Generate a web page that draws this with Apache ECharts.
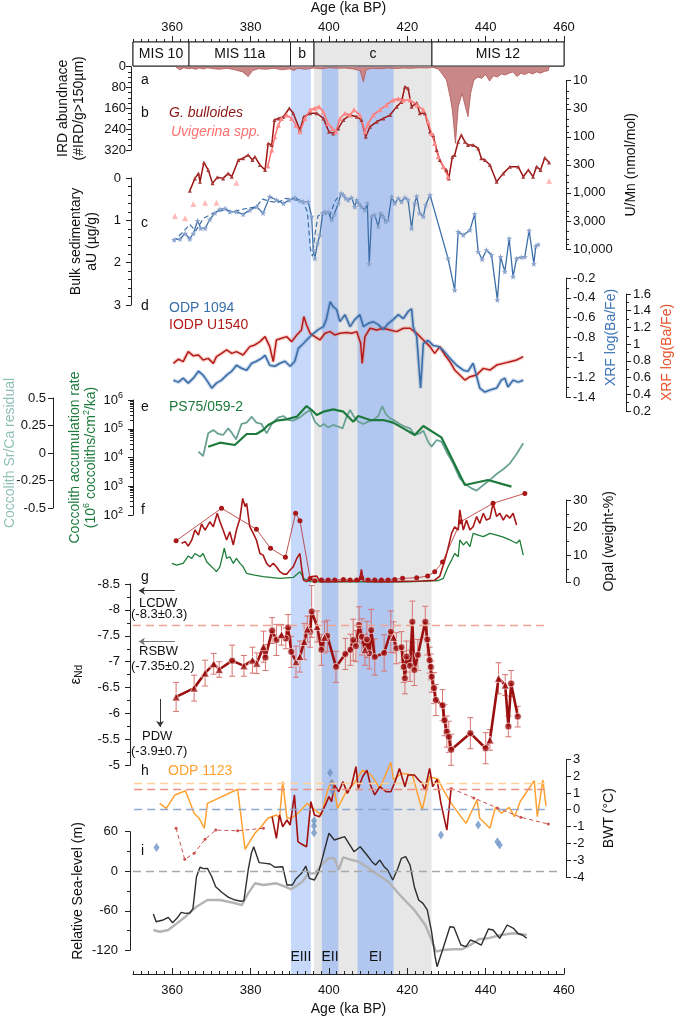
<!DOCTYPE html>
<html>
<head>
<meta charset="utf-8">
<script src="https://cdn.jsdelivr.net/npm/echarts@6/dist/echarts.min.js"></script>
<style>
  html, body { margin: 0; padding: 0; background: #fff; }
  #chart { width: 675px; height: 1016px; }
</style>
</head>
<body>
<div id="chart"></div>
<script>
// ---- data (age in ka BP) ----
const misStages = [['MIS 10', 350, 364.3], ['MIS 11a', 364.3, 390.2], ['b', 390.2, 396.2], ['c', 396.2, 426.3], ['MIS 12', 426.3, 460]];
const bands = [['', 396.2, 426.2], ['EIII', 390.3, 395.4], ['EII', 398.2, 402.4], ['EI', 407.3, 416.5]];

// a: IRD abundance
const ird = [[360.8,0],[361,5],[362,12],[363,4],[364,8],[365,6],[366,10],[367,5],[368,9],[369,4],[370,7],[372,10],[374,6],[376,12],[378,20],[379.4,38],[380.5,15],[382,8],[384,10],[386,6],[388,12],[390,8],[391,15],[392,6],[394,10],[396,5],[398,8],[400,4],[402,6],[404,5],[406,8],[408,15],[408.8,58],[409.5,12],[411,6],[413,8],[415,5],[417,7],[419,5],[421,6],[423,4],[425,5],[426.5,2],[428,10],[429,30],[430,51],[431,120],[431.5,166],[432.3,294],[433,154],[434,102],[434.6,140],[435.5,192],[436.2,100],[437,51],[438,40],[439,45],[440,30],[441,55],[442,35],[443,40],[444,28],[445,32],[446,25],[447,20],[448,38],[449,25],[450,30],[451,22],[452,28],[453,20],[454,25],[455,18],[456,15],[456.2,0]];

// b: U/Mn (nmol/mol)
const gBulloides = [[364.5,914],[365.8,551],[366.7,449],[367.1,631],[368.1,286],[369.2,391],[370.3,676],[371.5,528],[373.0,551],[374.3,449],[375.2,514],[376.9,259],[378.1,242],[379.4,211],[380.5,259],[381.1,226],[382.4,318],[383.7,391],[384.5,131],[385.4,140],[386.1,50],[387.1,47],[388.4,44],[389.9,31],[390.9,38],[392.6,76],[393.6,44],[395.2,38],[396.9,38],[398.6,47],[400.0,81],[401.1,87],[402.4,71],[403.7,50],[405.4,41],[407.1,44],[408.3,50],[409.4,100],[410.5,66],[412.2,54],[413.9,47],[415.6,41],[417.3,29],[418.5,24],[419.4,12.8],[420.2,13.7],[421.1,29],[422.4,25],[423.2,38],[424.5,38],[425.8,81],[426.6,93],[427.5,172],[428.3,259],[429.2,341],[430.0,391],[430.6,551],[431.5,226],[432.1,211],[433.0,122],[433.8,93],[434.7,122],[435.5,140],[436.8,140],[438.1,161],[438.9,242],[439.8,259],[441.1,318],[442.8,631],[444.5,449],[446.2,341],[448.3,341],[449.6,514],[450.9,391],[452.1,514],[453.0,341],[454.0,391],[455.1,236],[456.2,286]];
const uvigerina = [[384.4,332],[385.4,172],[386.2,100],[387.1,62],[387.9,47],[389.2,41],[390.5,47],[391.6,62],[392.6,81],[393.9,47],[395.2,33],[396.4,31],[397.5,29],[398.6,36],[399.8,58],[400.9,71],[401.8,81],[402.8,47],[404.1,38],[405.4,41],[406.4,33],[407.9,41],[409.2,81],[410.0,58],[411.3,41],[413.0,33],[414.7,27],[416.4,22],[417.7,21],[419.0,22],[420.7,22],[422.4,27],[424.1,33],[425.3,54],[426.2,87],[427.0,131],[427.9,226],[429.2,341],[430.4,514]];
const uvigerinaSparse = [[360.7,2570],[363.3,2840],[365.4,1580],[368.4,1500],[371.3,1500],[376.4,658],[456.2,614]];

// c: bulk sedimentary aU (ug/g)
const aU = [[360.5,1.46],[362.0,1.44],[363.3,1.31],[364.5,1.44],[365.4,1.31],[366.5,1.01],[367.3,1.19],[368.4,1.19],[369.6,0.98],[370.9,0.83],[372.2,0.74],[373.5,0.72],[374.7,0.80],[376.4,0.80],[378.1,0.86],[379.8,0.76],[381.5,0.68],[383.2,0.83],[384.9,0.44],[386.6,0.52],[388.4,0.60],[389.9,0.52],[391.3,0.46],[392.6,0.54],[393.5,0.56],[394.7,0.56],[395.6,0.91],[396.0,1.70],[396.4,1.90],[397.1,1.54],[397.7,1.35],[398.4,0.83],[399.0,0.80],[399.8,0.80],[400.7,0.99],[401.3,0.87],[402.4,0.60],[403.1,0.36],[403.7,0.40],[404.3,0.48],[404.9,0.52],[405.8,0.46],[406.6,0.68],[407.1,0.52],[407.7,0.61],[408.3,0.68],[409.2,0.76],[409.8,0.60],[410.3,2.03],[410.9,0.91],[411.7,0.87],[412.6,1.15],[413.2,0.83],[413.9,0.91],[414.5,1.03],[415.1,0.99],[416.0,0.44],[416.8,0.60],[417.7,0.48],[418.5,0.56],[419.4,0.46],[420.2,0.52],[421.1,1.19],[421.9,0.60],[422.4,0.43],[423.2,0.83],[424.1,0.91],[424.7,0.64],[425.8,0.40],[430.4,1.90],[432.1,2.65],[433.0,1.27],[434.3,1.35],[436.0,1.23],[437.2,0.85],[438.1,1.74],[439.1,1.92],[440.2,1.70],[441.5,1.82],[443.0,2.88],[443.8,1.86],[444.9,2.21],[446.0,1.43],[447.0,2.33],[447.9,1.90],[449.1,1.87],[450.0,1.86],[451.1,1.24],[452.3,2.03],[452.8,1.61],[453.4,1.57]];
const aUalt = [[360.2,1.50],[362.5,1.30],[364.5,1.10],[366.0,1.25],[368.0,0.95],[370.5,0.83],[373.0,0.76],[376.0,0.78],[379.0,0.72],[381.5,0.68],[383.0,0.50],[385.0,0.55],[387.0,0.58],[389.0,0.48],[391.5,0.52],[393.5,0.58],[394.5,0.80],[395.3,1.70],[395.8,1.85],[396.5,1.30],[397.2,0.90],[398.5,0.82],[400.2,0.90],[401.5,0.55],[403.0,0.38]];

// d: XRF log(Ba/Fe)
const odp1094 = [[360.3,-1.23],[361.6,-1.25],[362.8,-1.21],[364.1,-1.26],[365.4,-1.21],[366.7,-1.14],[367.9,-1.18],[368.8,-1.23],[370.1,-1.31],[371.3,-1.26],[372.6,-1.23],[373.9,-1.18],[375.2,-1.14],[376.4,-1.08],[377.7,-1.11],[379.0,-1.13],[380.3,-1.06],[381.5,-1.04],[382.8,-1.01],[383.7,-0.98],[384.9,-1.08],[386.2,-1.09],[387.5,-1.06],[388.8,-1.04],[390.1,-1.09],[391.3,-1.04],[392.2,-0.91],[393.5,-0.86],[394.7,-0.81],[396.0,-0.76],[397.3,-0.72],[398.6,-0.69],[399.4,-0.61],[400.3,-0.44],[401.1,-0.49],[402.0,-0.52],[402.8,-0.64],[404.1,-0.57],[405.4,-0.69],[406.6,-0.62],[407.9,-0.57],[408.8,-0.69],[410.0,-0.66],[411.3,-0.64],[412.6,-0.67],[413.9,-0.72],[415.1,-0.66],[416.4,-0.62],[417.7,-0.57],[419.0,-0.61],[420.2,-0.54],[421.1,-0.51],[421.5,-0.69],[422.4,-0.79],[423.4,-1.31],[424.1,-0.86],[425.3,-0.83],[426.6,-0.88],[427.9,-0.89],[429.2,-0.93],[430.9,-1.01],[432.6,-1.08],[434.3,-1.13],[435.5,-1.14],[436.8,-1.06],[437.7,-1.19],[438.5,-1.31],[439.8,-1.35],[441.1,-1.33],[442.8,-1.31],[444.0,-1.23],[444.9,-1.21],[445.7,-1.30],[447.0,-1.23],[448.3,-1.25],[449.6,-1.23]];
const u1540 = [[360.3,0.77],[361.6,0.82],[362.8,0.79],[364.1,0.91],[365.4,0.86],[366.7,0.87],[367.9,0.81],[369.2,0.83],[370.5,0.77],[371.3,0.85],[372.6,0.89],[373.9,0.93],[375.2,0.89],[376.4,0.91],[378.1,0.87],[379.8,0.97],[381.1,0.99],[382.4,1.03],[383.7,1.09],[384.9,0.97],[385.8,0.79],[386.6,1.05],[387.9,1.07],[389.2,1.09],[390.5,1.03],[391.8,1.11],[393.0,1.17],[393.6,1.33],[394.3,1.23],[395.2,1.13],[396.4,1.09],[397.7,1.05],[399.0,1.13],[400.3,1.15],[401.5,1.11],[402.8,1.13],[404.5,1.14],[405.8,1.13],[407.1,1.15],[408.1,1.01],[408.5,0.77],[409.2,1.09],[410.5,1.19],[412.2,1.17],[413.9,1.19],[415.6,1.17],[417.3,1.15],[419.0,1.19],[420.7,1.19],[422.4,1.13],[424.1,1.05],[425.8,0.97],[427.0,0.89],[428.3,0.97],[429.6,0.87],[430.9,0.79],[432.1,0.69],[433.4,0.63],[434.7,0.57],[436.0,0.61],[437.7,0.63],[439.4,0.71],[441.1,0.69],[442.8,0.75],[444.5,0.77],[446.2,0.79],[447.9,0.81],[449.6,0.85]];

// e: coccoliths
const srCa = [[366.7,0.012],[367.9,-0.027],[369.2,0.179],[370.5,0.209],[371.8,0.173],[373.0,0.164],[374.3,0.224],[375.2,0.185],[376.3,0.124],[377.7,0.264],[379.0,0.276],[380.3,0.330],[381.5,0.276],[382.8,0.264],[384.1,0.179],[385.4,0.264],[387.1,0.324],[388.4,0.336],[389.6,0.300],[390.9,0.294],[392.6,0.324],[393.9,0.361],[395.2,0.391],[396.4,0.285],[397.7,0.239],[398.7,0.264],[399.8,0.233],[401.1,0.255],[402.4,0.239],[403.5,0.224],[404.5,0.330],[405.4,0.391],[406.4,0.330],[407.5,0.285],[408.8,0.264],[410.0,0.285],[411.3,0.300],[412.6,0.336],[413.6,0.427],[414.5,0.355],[415.6,0.315],[416.8,0.294],[418.1,0.264],[419.4,0.239],[420.7,0.224],[421.9,0.164],[423.2,0.179],[424.1,0.203],[425.3,0.103],[426.2,0.058],[427.5,0.118],[428.7,0.103],[430.0,0.012],[431.7,-0.094],[433.4,-0.230],[435.1,-0.291],[436.4,-0.321],[437.7,-0.342],[439.4,-0.291],[441.1,-0.245],[442.8,-0.191],[444.5,-0.148],[446.2,-0.094],[447.9,-0.009],[449.6,0.088]];
const coccoAR = [[369.2,2.38e4],[372.2,3.28e4],[376.0,2.72e4],[379.0,6.56e4],[381.5,6.56e4],[383.2,9.05e4],[384.5,1.35e5],[386.6,1.91e5],[389.2,2.13e5],[391.8,2.63e5],[394.3,6.18e5],[395.6,4.49e5],[396.9,3.01e5],[398.6,3.93e5],[401.1,4.73e5],[403.7,3.93e5],[406.2,1.76e5],[407.5,2.77e5],[410.5,2.01e5],[413.9,2.01e5],[416.4,1.63e5],[419.0,1.03e5],[421.9,6.07e4],[424.1,1.25e5],[428.7,5.02e4],[434.7,1104],[440.6,1648],[446.6,968]];

// f: opal (weight-%)
const opalLowRes = [[361.0,15.2],[372.6,27.0],[381.5,19.4],[385.1,12.5],[388.9,9.2],[391.5,25.2],[392.6,22.5],[395.2,1.5],[396.4,0.7],[398.1,1.0],[399.8,1.0],[401.5,1.0],[403.7,1.2],[405.4,1.0],[407.1,1.0],[408.3,1.8],[410.0,1.0],[411.7,1.0],[413.4,1.0],[415.1,1.0],[416.8,1.2],[418.8,1.6],[422.4,1.8],[425.2,2.4],[427.0,4.0],[429.0,7.5],[433.6,22.1],[441.9,28.8],[450.0,32.4]];
const opalRed = [[362.4,14.3],[363.3,14.9],[364.1,13.3],[365.0,15.5],[365.8,19.1],[366.7,17.3],[367.5,21.3],[368.4,19.1],[369.6,22.1],[370.5,20.3],[371.5,25.2],[372.2,22.1],[373.0,19.1],[373.9,15.5],[374.7,18.5],[375.6,13.7],[376.4,19.1],[377.3,23.4],[378.0,30.6],[378.6,27.6],[379.0,28.8],[379.8,20.3],[380.7,17.9],[381.5,15.5],[382.4,10.6],[383.2,10.0],[384.1,7.0],[384.9,5.8],[385.8,7.0],[386.6,5.8],[387.5,4.0],[388.4,3.1],[389.2,3.1],[390.1,4.6],[390.9,5.8],[391.8,8.8],[392.6,10.6],[393.0,5.8],[393.5,1.0],[394.3,0.4],[395.6,2.2],[396.9,2.4],[397.7,0.4],[400,0.4],[405,0.5],[407.8,0.5],[408.3,4.8],[408.8,0.5],[412,0.4],[416,0.4],[420,0.5],[424,0.6],[427,0.9],[428.3,2.4],[429.6,8.2],[430.4,12.5],[431.3,17.9],[432.1,20.3],[433.0,19.1],[433.4,26.4],[434.3,19.1],[435.1,22.7],[436.0,19.1],[436.8,20.3],[437.7,24.0],[438.5,21.5],[439.4,25.2],[440.2,22.7],[441.1,23.4],[441.9,28.8],[442.8,24.0],[443.6,25.2],[444.5,22.7],[445.3,24.6],[446.2,23.4],[447.0,25.2],[447.9,20.9]];
const opalGreen = [[359.9,7.0],[361.1,6.4],[362.8,7.0],[364.1,9.7],[365.0,8.8],[365.8,10.6],[367.1,9.4],[367.9,10.6],[368.8,7.6],[369.6,6.4],[370.5,5.2],[371.3,4.0],[372.2,5.8],[373.3,12.5],[373.9,8.8],[374.7,9.4],[375.6,7.0],[376.4,8.8],[377.3,7.0],[378.1,5.8],[379.0,3.4],[380.7,2.8],[383.2,2.2],[387.5,1.6],[390.9,1.9],[392.6,4.0],[393.5,1.6],[395.2,0.4],[400,0.3],[410,0.3],[420,0.3],[428,0.8],[429.2,1.6],[430.4,5.8],[431.3,8.2],[432.1,10.6],[433.0,9.4],[433.4,15.5],[434.3,13.7],[435.1,14.9],[436.0,13.1],[436.8,17.9],[438.1,17.3],[439.4,16.7],[441.1,17.9],[442.8,17.3],[444.5,16.5],[446.2,15.5],[447.9,14.3],[448.7,15.5],[449.6,10.0]];

// g: eNd (age, value, error, marker: t = triangle, c = circle)
const ndAge = [361.0,365.6,368.4,370.6,372.0,375.3,378.3,380.5,381.6,383.3,383.8,385.5,386.6,387.9,389.0,389.6,390.4,391.6,392.6,393.7,394.5,395.2,395.6,397.0,398.1,398.9,399.6,401.8,404.2,405.5,406.2,406.9,407.7,408.4,409.2,409.7,410.3,410.8,411.7,414.1,415.8,416.5,417.2,418.5,419.1,419.4,419.8,420.7,421.3,421.8,422.7,424.6,425.1,425.7,426.0,426.2,426.8,427.3,429.0,429.5,430.1,430.6,431.2,436.1,440.0,441.1,443.3,445.0,445.8,446.5,448.2];
const ndVal = [-6.32,-6.49,-6.78,-6.96,-6.85,-7.02,-6.92,-7.03,-6.97,-7.29,-7.08,-7.60,-7.42,-7.52,-7.45,-7.66,-7.19,-7.00,-7.10,-7.39,-7.63,-7.58,-7.97,-7.68,-7.23,-7.47,-7.50,-6.90,-7.15,-7.23,-7.42,-7.30,-7.71,-7.48,-7.23,-7.43,-7.16,-7.61,-7.09,-7.17,-7.58,-7.47,-7.26,-7.28,-6.90,-6.68,-7.10,-6.92,-7.77,-6.84,-7.13,-7.77,-7.43,-7.03,-6.90,-6.71,-6.49,-6.26,-6.16,-5.87,-5.65,-5.55,-5.30,-5.62,-5.33,-5.49,-6.68,-6.55,-5.75,-6.58,-5.94];
const ndErr = [0.28,0.25,0.25,0.2,0.15,0.3,0.2,0.25,0.2,0.3,0.25,0.25,0.3,0.2,0.2,0.25,0.3,0.3,0.3,0.35,0.25,0.3,0.5,0.3,0.3,0.3,0.3,0.3,0.3,0.3,0.4,0.3,0.35,0.35,0.3,0.35,0.3,0.4,0.35,0.35,0.4,0.3,0.3,0.3,0.3,0.3,0.3,0.3,0.4,0.3,0.3,0.3,0.3,0.25,0.25,0.3,0.3,0.3,0.3,0.3,0.3,0.3,0.3,0.3,0.3,0.2,0.3,0.2,0.2,0.25,0.2];
const ndMark = 'tttttcttttccctcccttttcctctcccccccctcccccctccccccccccccccccccccccctttcccctt';
const ndRefs = [['LCDW', '(-8.3\u00b10.3)'], ['RSBW', '(-7.35\u00b10.2)'], ['PDW', '(-3.9\u00b10.7)']];

// h: bottom-water temperature (deg C)
const bwt1123 = [[356.8,0.38],[358.5,0.08],[360.7,0.88],[363.4,1.13],[365.6,-0.21],[366.9,-0.51],[368.2,-1.10],[369.0,0.38],[376.7,1.22],[378.6,-2.35],[381.1,-1.40],[382.7,-1.01],[384.4,-0.51],[386.6,-0.31],[387.4,-0.51],[388.2,1.67],[389.3,-0.51],[390.4,-0.51],[392.1,-0.21],[394.5,0.38],[396.5,-0.02],[398.1,-0.31],[399.8,1.27],[400.9,1.77],[402.2,0.08],[404.2,0.98],[406.4,1.57],[408.6,2.36],[410.8,2.07],[413.0,1.27],[415.8,2.82],[416.5,1.77],[418.5,2.17],[421.3,2.07],[423.8,-0.02],[425.7,1.97],[427.9,1.81],[429.0,1.27],[431.2,0.38],[435.0,-0.81],[437.8,0.58],[438.5,-0.51],[441.1,-1.10],[442.5,0.14],[444.1,-0.21],[446.0,0.14],[447.4,-0.41],[448.8,0.48],[450.5,1.07],[452.4,1.73],[453.2,-0.41],[454.6,1.77],[455.4,0.22]];
const bwtRed = [[385.5,-0.41],[386.6,-1.70],[387.4,-0.31],[388.2,-1.01],[389.3,-0.61],[390.1,-0.91],[391.2,0.88],[392.1,-1.90],[393.0,-2.04],[394.3,-2.20],[395.4,0.48],[396.3,-0.31],[397.6,-0.41],[398.9,0.18],[400.0,0.78],[400.7,0.48],[401.4,1.47],[402.5,1.07],[403.6,1.67],[404.7,0.98],[405.8,1.47],[406.9,2.56],[407.5,1.27],[408.6,1.96],[409.7,2.36],[410.6,1.47],[411.7,0.88],[413.0,1.37],[414.6,1.07],[415.8,1.07],[416.9,1.67],[418.0,2.46],[419.4,1.37],[420.2,2.07],[421.8,2.07],[422.9,1.77],[423.8,1.57],[424.5,1.17],[425.7,2.46],[426.5,1.37],[427.6,1.81],[428.6,0.38],[430.1,-1.21],[431.2,1.27]];
const bwtDashedEarly = [[361.0,-1.10],[363.2,-2.95],[365.6,-2.59],[368.4,-1.76],[371.1,-1.21],[376.7,-1.25],[383.3,-1.10]];
const bwtDashedLate = [[431.2,1.27],[437.0,0.70],[443.0,0.10],[449.0,-0.45],[456.0,-0.85]];
const bwtDiamonds = [[356.0,-2.24],[396.2,-0.65],[396.2,-0.97],[396.2,-1.37],[400.3,2.20],[400.7,1.57],[400.9,1.13],[428.6,-1.50],[438.1,-0.91],[443.0,-1.90],[443.6,-2.10]];
const bwtRefs = [1.57, 1.22, 0];

// i: relative sea level (m)
const slBlack = [[355.2,-64.9],[355.9,-76.6],[357.7,-74.0],[359.0,-70.0],[360.1,-78.1],[361.2,-71.5],[362.3,-62.4],[363.4,-63.9],[364.5,-63.5],[365.3,-56.8],[366.2,-8.3],[367.1,6.0],[368.0,4.0],[369.0,4.4],[370.1,-8.3],[371.1,-23.5],[372.8,-32.6],[374.4,-39.6],[376.1,-43.7],[377.5,-45.5],[378.3,-44.7],[379.4,1.9],[380.2,27.1],[380.8,37.2],[382.2,13.0],[383.8,12.0],[385.0,11.0],[386.2,6.0],[388.2,6.9],[389.3,-20.9],[390.7,-20.9],[391.5,-12.3],[393.0,-3.2],[394.1,7.9],[395.0,-10.8],[396.3,-13.3],[397.4,-0.7],[398.1,14.5],[400.0,57.6],[401.4,47.4],[404.0,52.4],[406.4,29.6],[408.0,37.2],[409.7,24.6],[411.0,14.5],[411.9,9.5],[413.0,17.0],[414.1,6.9],[415.0,1.9],[416.3,-13.3],[417.6,4.4],[418.5,19.6],[419.6,22.1],[420.7,9.5],[421.8,-23.5],[422.9,-43.7],[424.0,-48.7],[425.1,-58.8],[426.2,-91.8],[427.1,-129.7],[427.6,-144.9],[429.0,-119.5],[430.9,-84.2],[431.9,-85.1],[433.7,-112.0],[435.0,-114.5],[436.1,-104.4],[437.2,-106.9],[438.9,-112.0],[440.7,-87.7],[441.9,-89.2],[443.6,-101.8],[445.5,-81.6],[447.1,-86.6],[448.2,-94.2],[449.4,-96.8],[450.5,-101.8]];
const slGray = [[355.2,-89.2],[356.8,-91.8],[359.0,-89.2],[361.2,-79.1],[363.4,-69.0],[366.2,-53.8],[369.0,-43.7],[372.2,-43.7],[375.6,-47.8],[377.8,-51.3],[379.4,-33.5],[381.1,-18.3],[383.3,-20.9],[386.6,-18.3],[388.8,-23.5],[390.4,-27.4],[393.2,-15.9],[394.8,-3.2],[396.5,-3.2],[398.1,9.5],[399.8,19.6],[401.4,19.6],[402.5,1.9],[403.6,21.1],[405.3,18.1],[407.5,14.5],[409.7,6.9],[411.9,-3.2],[415.2,-15.9],[418.5,-38.6],[421.8,-58.8],[424.6,-81.6],[426.2,-104.4],[427.3,-122.0],[429.0,-119.5],[431.7,-118.5],[433.9,-118.5],[436.1,-112.0],[438.3,-103.3],[440.5,-101.8],[443.9,-96.8],[447.1,-94.2],[450.5,-96.8]];

// ---- chart ----
const FONT = '"Liberation Sans", Arial, Helvetica, sans-serif';
const DARKRED = '#9c1414';
const chart = echarts.init(document.getElementById('chart'));

function merge(a, b) {
  for (const k in b) {
    const v = b[k];
    if (v && typeof v === 'object' && !Array.isArray(v) && a[k] && typeof a[k] === 'object' && !Array.isArray(a[k])) {
      merge(a[k], v);
    } else {
      a[k] = v;
    }
  }
  return a;
}

// panel layout: [top, height] of each grid (pixels)
const panels = [
  [42, 24],       // 0 MIS boxes + top axis
  [66, 908],      // 1 bands + bottom axis
  [66.7, 83.3],   // 2 IRD
  [80.7, 168.3],  // 3 U/Mn
  [178, 127],     // 4 aU
  [278, 119],     // 5 XRF ODP 1094
  [294, 117],     // 6 XRF U1540
  [398, 110],     // 7 Sr/Ca
  [400, 115],     // 8 coccolith AR
  [500, 82.7],    // 9 opal
  [584, 181.3],   // 10 eNd
  [759.3, 117.7], // 11 BWT
  [831.7, 118.6], // 12 sea level
  [42, 24],       // 13 long ticks top
  [66, 908]       // 14 long ticks bottom
];
const grids = panels.map(p => ({ left: 133, right: 111, top: p[0], height: p[1], outerBoundsMode: 'none', containLabel: false }));
grids[0].show = true;
grids[0].borderColor = '#222';
grids[0].borderWidth = 1;

const majorTicks = [360, 380, 400, 420, 440, 460];
const xAxes = panels.map((p, i) => ({
  gridIndex: i, type: 'value', min: 350, max: 460, show: false,
  axisLine: { onZero: false }, splitLine: { show: false }
}));
const ageLabel = v => (v % 20 === 0 && v > 350 ? String(v) : '');
merge(xAxes[0], {
  show: true, position: 'top', interval: 2,
  axisLine: { show: true, lineStyle: { color: '#222' } },
  axisTick: { show: true, length: 3, inside: false, lineStyle: { color: '#222' } },
  axisLabel: { show: true, formatter: ageLabel, color: '#111', fontSize: 13, margin: 8 },
  name: 'Age (ka BP)', nameLocation: 'middle', nameGap: 27, nameTextStyle: { color: '#111', fontSize: 14 }
});
merge(xAxes[1], {
  show: true, position: 'bottom', interval: 2,
  axisLine: { show: true, lineStyle: { color: '#222' } },
  axisTick: { show: true, length: 3, inside: true, lineStyle: { color: '#222' } },
  axisLabel: { show: true, formatter: ageLabel, color: '#111', fontSize: 13, margin: 10 },
  name: 'Age (ka BP)', nameLocation: 'middle', nameGap: 27, nameTextStyle: { color: '#111', fontSize: 14 }
});
merge(xAxes[13], {
  show: true, position: 'top',
  axisLine: { show: false }, axisLabel: { show: false },
  axisTick: { show: true, length: 6, customValues: majorTicks, lineStyle: { color: '#222' } }
});
merge(xAxes[14], {
  show: true, position: 'bottom',
  axisLine: { show: false }, axisLabel: { show: false },
  axisTick: { show: true, length: 6, inside: true, customValues: majorTicks, lineStyle: { color: '#222' } }
});

function yAx(gi, o) {
  return merge({
    gridIndex: gi, type: 'value', nameLocation: 'middle', nameRotate: 90, nameMoveOverlap: false,
    splitLine: { show: false },
    axisLine: { show: true, onZero: false, lineStyle: { color: '#222' } },
    axisTick: { show: true, length: 5, lineStyle: { color: '#222' } },
    minorTick: { show: true, length: 3, splitNumber: 2, lineStyle: { color: '#222' } },
    axisLabel: { color: '#111', fontSize: 13, margin: 6 },
    nameTextStyle: { color: '#111', fontSize: 14, lineHeight: 16 }
  }, o);
}
const hiddenY = gi => ({ gridIndex: gi, type: 'value', min: 0, max: 1, show: false });
const oneDec = v => String(parseFloat(Number(v).toFixed(2)));

const yAxes = [
  hiddenY(0),
  hiddenY(1),
  yAx(2, { min: 0, max: 320, interval: 80, inverse: true, position: 'left', offset: 2,
    minorTick: { splitNumber: 4 }, axisLabel: { margin: 5 },
    name: 'IRD abundnace\n(#IRD/g>150\u00b5m)', nameGap: 44 }),
  yAx(3, { type: 'log', logBase: Math.sqrt(10), min: 10, max: 10000, inverse: true, position: 'right', offset: 2,
    minorTick: { splitNumber: 4 },
    axisLabel: { margin: 7, formatter: v => Number(Number(v).toPrecision(1)).toLocaleString('en-US') },
    name: 'U/Mn (nmol/mol)', nameGap: 57 }),
  yAx(4, { min: 0, max: 3, interval: 1, inverse: true, position: 'left', offset: 2,
    minorTick: { splitNumber: 5 }, axisLabel: { margin: 10 },
    name: 'Bulk sedimentary\naU (\u00b5g/g)', nameGap: 31 }),
  yAx(5, { min: -1.4, max: -0.2, interval: 0.2, position: 'right', offset: 2,
    minorTick: { splitNumber: 2 }, axisLabel: { margin: 7, formatter: oneDec },
    name: 'XRF log(Ba/Fe)', nameGap: 37, nameTextStyle: { color: '#3f75b5' } }),
  yAx(6, { min: 0.2, max: 1.6, interval: 0.2, position: 'right', offset: 62,
    minorTick: { splitNumber: 2 }, axisLabel: { margin: 7, formatter: oneDec },
    name: 'XRF log(Ba/Fe)', nameGap: 33, nameTextStyle: { color: '#e8532a' } }),
  yAx(7, { min: -0.5, max: 0.5, interval: 0.25, position: 'left', offset: 80,
    minorTick: { show: false }, axisLabel: { margin: 7 },
    name: 'Coccolith Sr/Ca residual', nameGap: 35, nameTextStyle: { color: '#8fc0b6' } }),
  yAx(8, { type: 'log', logBase: 10, min: 100, max: 1e6, position: 'left', offset: 0,
    minorTick: { splitNumber: 9, length: 3 },
    axisLabel: { margin: 10, formatter: v => '10{s|' + Math.round(Math.log10(v)) + '}',
      rich: { s: { fontSize: 9, padding: [0, 0, 9, 0] } } },
    name: '{g|Coccolith accumulation rate}\n{g|(10}{s|6}{g| coccoliths/cm}{s|2}{g|/ka)}', nameGap: 34,
    nameTextStyle: { color: '#1c7a3c', rich: { g: { color: '#1c7a3c', fontSize: 14 }, s: { color: '#1c7a3c', fontSize: 9, padding: [0, 0, 8, 0] } } } }),
  yAx(9, { min: 0, max: 30, interval: 10, position: 'right', offset: 2,
    minorTick: { splitNumber: 2 }, axisLabel: { margin: 7 },
    name: 'Opal (weight-%)', nameGap: 35 }),
  yAx(10, { min: -8.5, max: -5, interval: 0.5, inverse: true, position: 'left', offset: 3,
    minorTick: { splitNumber: 2 }, axisLabel: { margin: 10 },
    name: '\u03b5{n|Nd}', nameGap: 46, nameTextStyle: { fontSize: 15, rich: { n: { fontSize: 10, padding: [0, 0, -6, 0] } } } }),
  yAx(11, { min: -4, max: 3, interval: 1, position: 'right', offset: 2,
    minorTick: { show: false }, axisLabel: { margin: 7 },
    name: 'BWT (\u00b0C)', nameGap: 35 }),
  yAx(12, { min: -120, max: 60, interval: 60, position: 'left', offset: 3,
    minorTick: { splitNumber: 2 }, axisLabel: { margin: 12 },
    name: 'Relative Sea-level (m)', nameGap: 44 }),
  hiddenY(13),
  hiddenY(14)
];

const ax = i => ({ xAxisIndex: i, yAxisIndex: i });
const lineS = (i, data, color, width, extra) => merge(Object.assign({
  type: 'line', data, symbol: 'none', clip: false, z: 3,
  lineStyle: { color, width }, itemStyle: { color }
}, ax(i)), extra || {});

const bandColor = { '': '#e7e7e7', EIII: '#c6d9fb', EII: '#b1c7ef', EI: '#b1c7ef' };

// eNd subsets
const ndLine = ndAge.map((a, i) => [a, ndVal[i]]);
const ndTri = ndLine.filter((d, i) => ndMark[i] === 't');
const ndCirc = ndLine.filter((d, i) => ndMark[i] !== 't');
const ndBars = ndAge.map((a, i) => [a, ndVal[i] - ndErr[i], ndVal[i] + ndErr[i]]);

const series = [
  // background bands with labels
  merge({ type: 'line', data: [], silent: true, z: 0,
    markArea: { silent: true, z: 0,
      data: bands.map(b => [{ name: b[0], xAxis: b[1], itemStyle: { color: bandColor[b[0]] },
        label: { show: true, position: 'insideBottom', distance: 10, color: '#111', fontSize: 14 } }, { xAxis: b[2] }]) } }, ax(1)),
  // MIS stage boxes
  merge({ type: 'line', data: [], silent: true, z: 1,
    markArea: { silent: true,
      data: misStages.map(s => [{ name: s[0], xAxis: s[1],
        itemStyle: { color: s[0] === 'c' ? '#e7e7e7' : '#fff', borderColor: '#222', borderWidth: 1 },
        label: { show: true, position: 'inside', color: '#111', fontSize: 14 } }, { xAxis: s[2] }]) } }, ax(0)),
  merge({ type: 'line', data: [] }, ax(13)),
  merge({ type: 'line', data: [] }, ax(14)),

  // a
  lineS(2, ird, '#b35656', 0.8, { areaStyle: { color: '#c98787', opacity: 1 } }),
  // b
  lineS(3, gBulloides, DARKRED, 1.5, { symbol: 'triangle', symbolSize: 4, itemStyle: { color: '#a83a3a' } }),
  lineS(3, uvigerina, '#ff6f6f', 1.5, { symbol: 'triangle', symbolSize: 5, itemStyle: { color: '#ff8a8a' } }),
  merge({ type: 'scatter', data: uvigerinaSparse, symbol: 'triangle', symbolSize: 6, clip: false, itemStyle: { color: '#ffaaaa' } }, ax(3)),
  // c
  lineS(4, aUalt, '#3d6fa8', 1.2, { lineStyle: { type: [5, 3] } }),
  lineS(4, aU, '#3d6fa8', 1.3, { symbol: 'path://M0,-10L2.4,-3.3L9.5,-3.1L3.9,1.3L5.9,8.1L0,4.1L-5.9,8.1L-3.9,1.3L-9.5,-3.1L-2.4,-3.3Z',
    symbolSize: 6, itemStyle: { color: '#8aa3cc' } }),
  // d
  lineS(6, u1540, 'rgba(240,130,110,0.35)', 4, { z: 2 }),
  lineS(5, odp1094, 'rgba(110,150,200,0.35)', 4, { z: 2 }),
  lineS(6, u1540, '#b31b1b', 1.5),
  lineS(5, odp1094, '#3b6ea8', 1.6),
  // e
  lineS(7, srCa, '#6ba296', 1.8),
  lineS(8, coccoAR, '#1c7a3c', 2.2),
  // f
  lineS(9, opalGreen, '#1f7d3a', 1.3),
  lineS(9, opalRed, '#a81818', 1.6),
  lineS(9, opalLowRes, '#b32a2a', 0.8, { symbol: 'circle', symbolSize: 5, itemStyle: { color: '#a81818' } }),
  // g
  merge({ type: 'custom', data: ndBars, clip: false, z: 2, encode: { x: 0, y: [1, 2] },
    renderItem: (params, api) => {
      const p1 = api.coord([api.value(0), api.value(1)]);
      const p2 = api.coord([api.value(0), api.value(2)]);
      const st = { stroke: '#d77470', lineWidth: 1 };
      return { type: 'group', children: [
        { type: 'line', shape: { x1: p1[0], y1: p1[1], x2: p2[0], y2: p2[1] }, style: st },
        { type: 'line', shape: { x1: p1[0] - 3, y1: p1[1], x2: p1[0] + 3, y2: p1[1] }, style: st },
        { type: 'line', shape: { x1: p2[0] - 3, y1: p2[1], x2: p2[0] + 3, y2: p2[1] }, style: st }
      ] };
    } }, ax(10)),
  lineS(10, ndLine, '#9c0f0f', 2.6, {
    markLine: { silent: true, symbol: 'none', label: { show: false },
      data: [
        [{ coord: [350, -7.7], lineStyle: { color: '#f0a494', type: [8, 5], width: 1.3 } }, { coord: [455.1, -7.7] }],
        [{ coord: [360.7, -8.37], symbol: 'none', lineStyle: { color: '#333', type: 'solid', width: 1 } }, { coord: [351.5, -8.37], symbol: 'arrow', symbolSize: 6 }],
        [{ coord: [360.7, -7.39], symbol: 'none', lineStyle: { color: '#777', type: 'solid', width: 1 } }, { coord: [351.5, -7.39], symbol: 'arrow', symbolSize: 6 }],
        [{ coord: [356.9, -6.28], symbol: 'none', lineStyle: { color: '#333', type: 'solid', width: 1 } }, { coord: [356.9, -5.74], symbol: 'arrow', symbolSize: 6 }]
      ] } }),
  merge({ type: 'scatter', data: ndCirc, symbol: 'circle', symbolSize: 7, clip: false, z: 4,
    itemStyle: { color: '#9c0f0f', borderColor: '#fff', borderWidth: 0.8 } }, ax(10)),
  merge({ type: 'scatter', data: ndTri, symbol: 'triangle', symbolSize: 8, clip: false, z: 4,
    itemStyle: { color: '#9c0f0f', borderColor: '#fff', borderWidth: 0.8 } }, ax(10)),
  // h
  lineS(11, bwt1123, '#ffa030', 1.5, {
    markLine: { silent: true, symbol: 'none', label: { show: false },
      data: bwtRefs.map((v, i) => [{ coord: [350.3, v], lineStyle: { color: ['#ffd09a', '#ec8e80', '#8fa8d2'][i], type: [8, 5], width: 1.3 } }, { coord: [455.1, v] }]) } }),
  lineS(11, bwtDashedEarly, '#c9524e', 1, { symbol: 'circle', symbolSize: 3, lineStyle: { type: [4, 3] } }),
  lineS(11, bwtDashedLate, '#c9524e', 1, { symbol: 'circle', symbolSize: 3, lineStyle: { type: [4, 3] } }),
  lineS(11, bwtRed, '#a31010', 1.6),
  merge({ type: 'scatter', data: bwtDiamonds, symbol: 'diamond', symbolSize: [6, 9], clip: false, z: 4,
    itemStyle: { color: '#6d92c5' } }, ax(11)),
  // i
  lineS(12, slGray, '#b3b3b3', 2.4, {
    markLine: { silent: true, symbol: 'none', label: { show: false },
      data: [[{ coord: [350, 0], lineStyle: { color: '#a8a8a8', type: [8, 5], width: 1.3 } }, { coord: [459, 0] }]] } }),
  lineS(12, slBlack, '#2e2e2e', 1.4)
];

// panel letters and series names
const txt = (x, y, text, color, extra) => ({ type: 'text', x, y, silent: true, z: 10,
  style: Object.assign({ text, fill: color || '#111', fontSize: 14, fontFamily: FONT, verticalAlign: 'middle' }, extra || {}) });
const letters = [['a', 80], ['b', 113], ['c', 223], ['d', 306], ['e', 407], ['f', 510], ['g', 577], ['h', 771], ['i', 851]];
const graphic = letters.map(l => txt(141, l[1], l[0]))
  .concat([
    txt(169, 113, 'G. bulloides', '#8c1515', { fontStyle: 'italic' }),
    txt(171, 132, 'Uvigerina spp.', '#ff6f6f', { fontStyle: 'italic' }),
    txt(169, 308, 'ODP 1094', '#3b6ea8'),
    txt(169, 325, 'IODP U1540', '#b31b1b'),
    txt(169, 407.5, 'PS75/059-2', '#1c7a3c'),
    txt(168, 771, 'ODP 1123', '#ffa030'),
    txt(139, 603, ndRefs[0][0], '#111', { fontSize: 13 }),
    txt(131, 614.5, ndRefs[0][1], '#111', { fontSize: 13 }),
    txt(139, 651, ndRefs[1][0], '#111', { fontSize: 13 }),
    txt(131, 666, ndRefs[1][1], '#111', { fontSize: 13 }),
    txt(142, 736, ndRefs[2][0], '#111', { fontSize: 13 }),
    txt(131, 751.5, ndRefs[2][1], '#111', { fontSize: 13 })
  ]);

chart.setOption({
  animation: false,
  backgroundColor: '#fff',
  textStyle: { fontFamily: FONT },
  grid: grids,
  xAxis: xAxes,
  yAxis: yAxes,
  series,
  graphic
});
</script>
</body>
</html>
